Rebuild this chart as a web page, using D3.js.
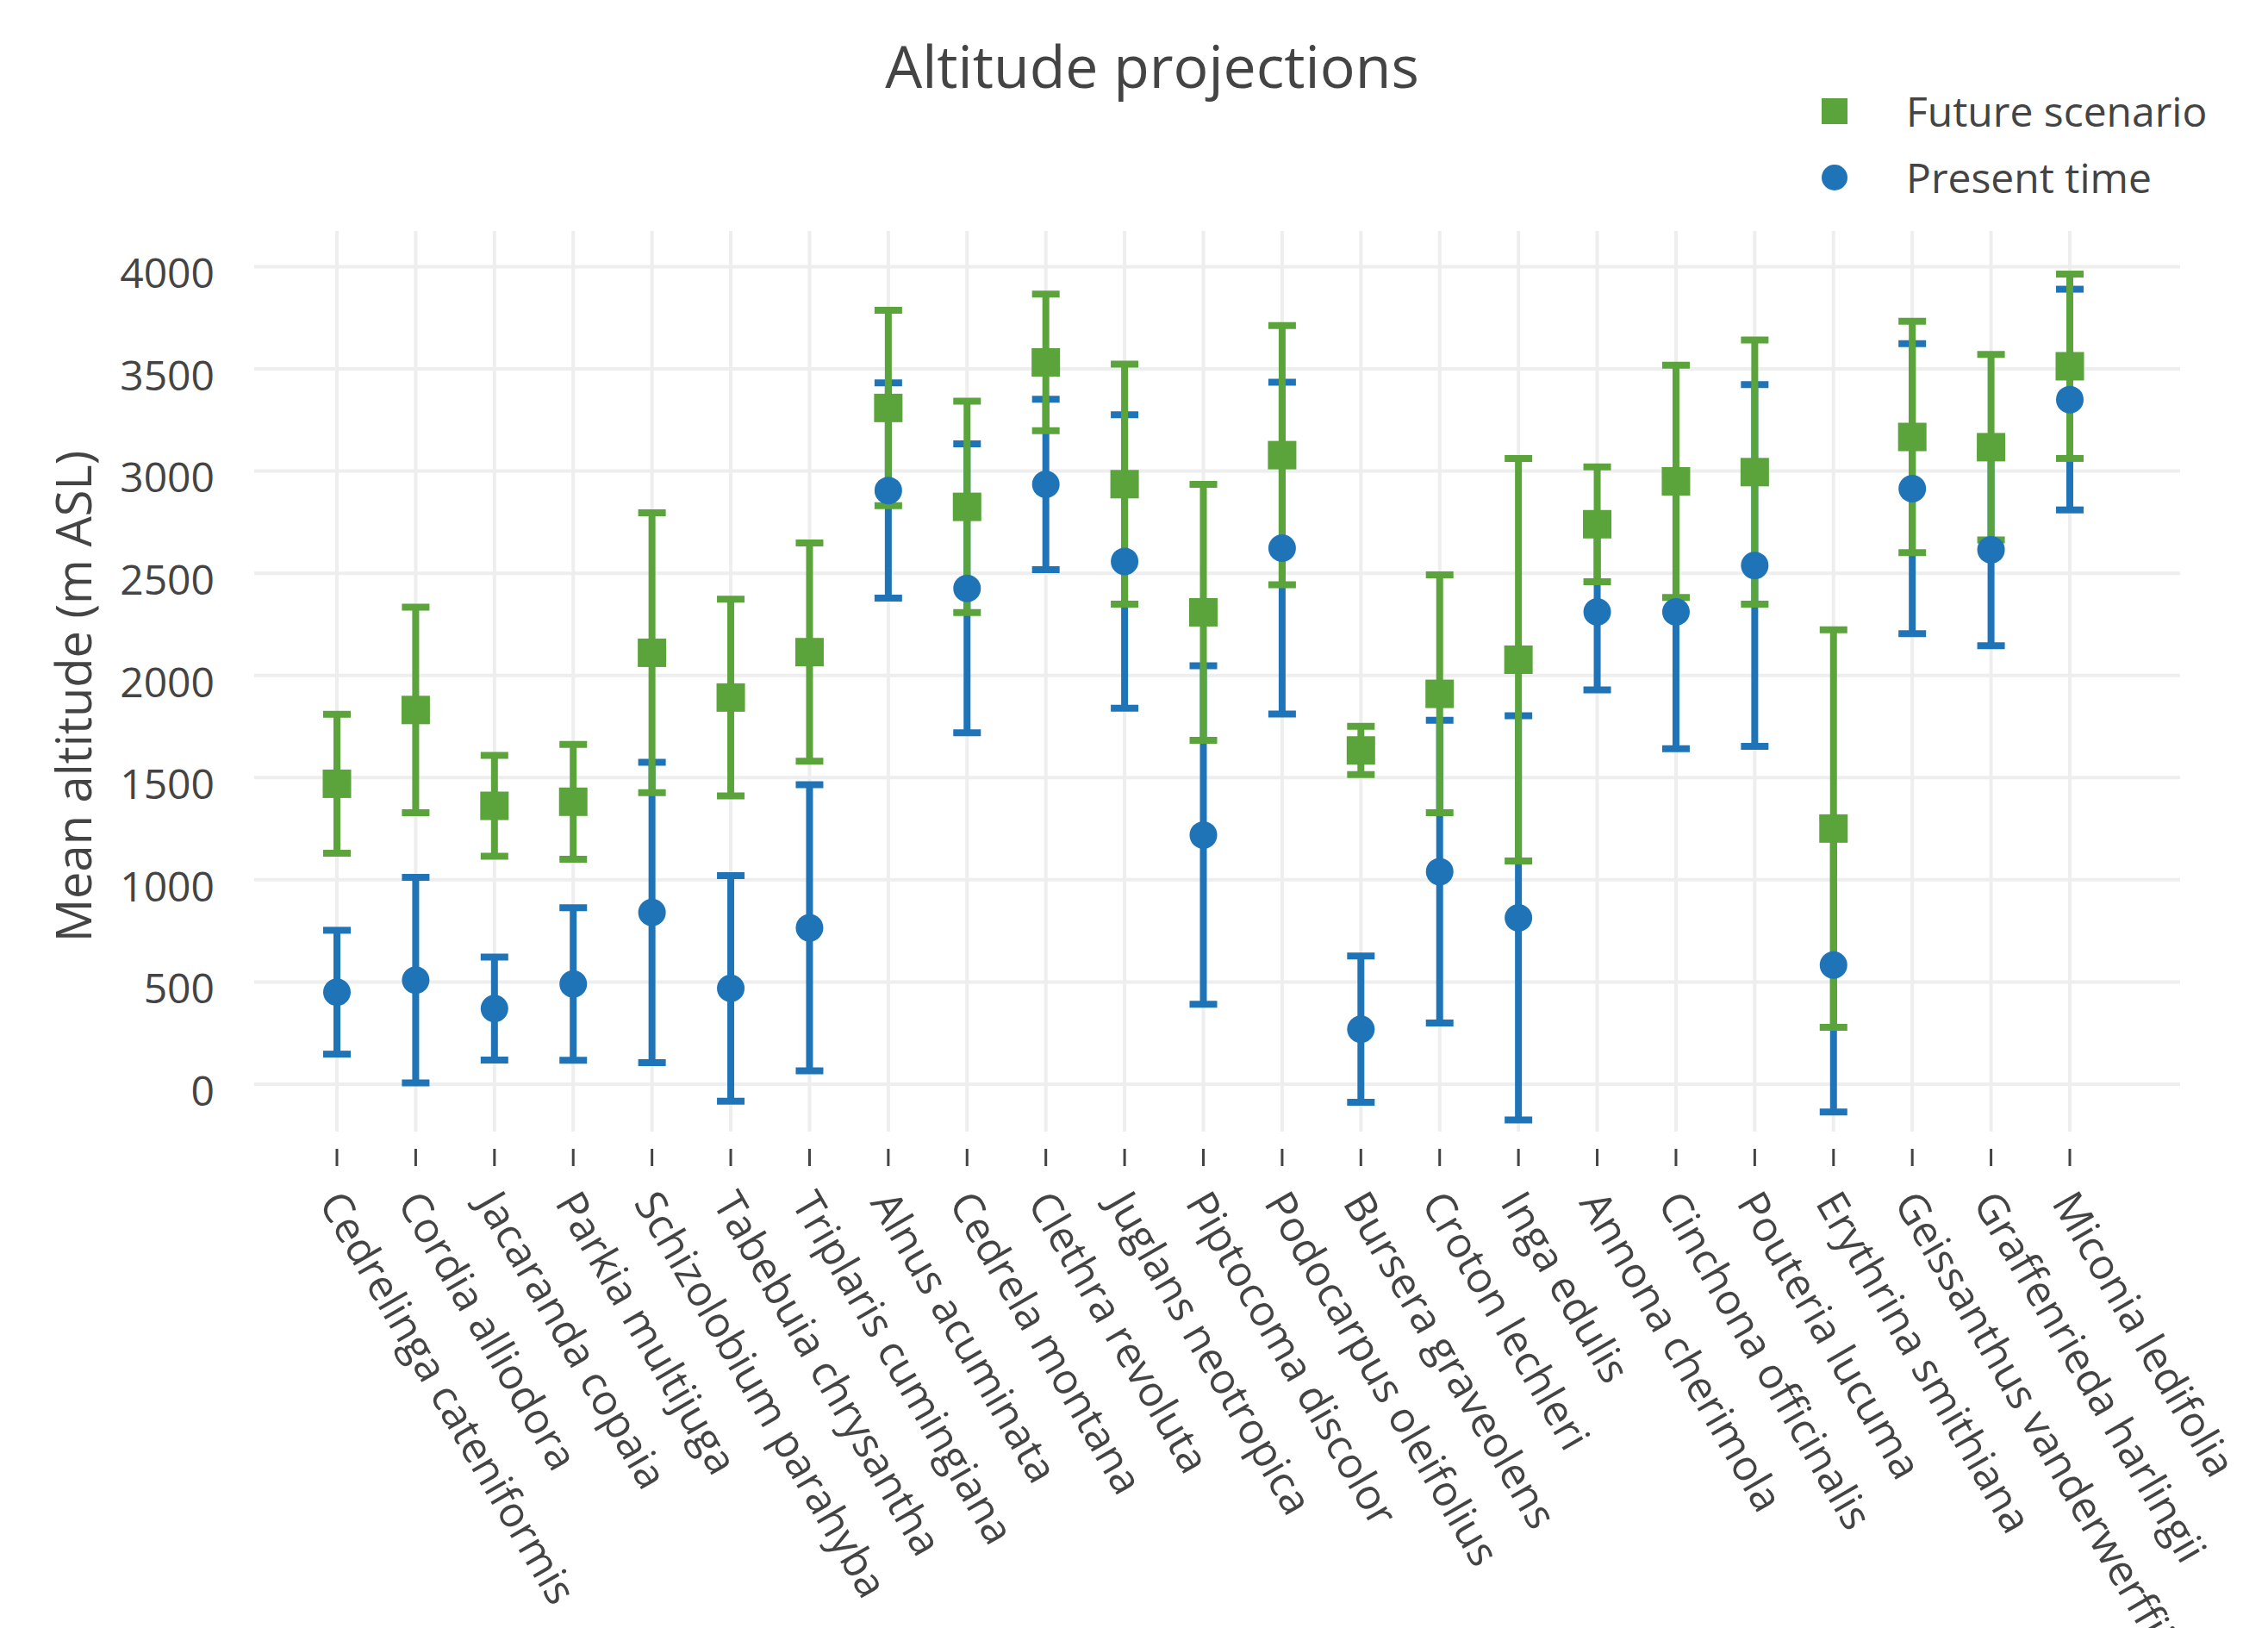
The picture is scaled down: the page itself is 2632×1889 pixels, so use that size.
<!DOCTYPE html>
<html>
<head>
<meta charset="utf-8">
<script src="https://d3js.org/d3.v7.min.js"></script>
<style>
  body { margin: 0; background: #fff; }
  text { font-family: "Open Sans", "Noto Sans", sans-serif; fill: #444; }
</style>
</head>
<body>
<div id="chart-area"></div>
<script>

var width = 2632,
    height = 1889;

// Data
var species = ["Cedrelinga cateniformis", "Cordia alliodora", "Jacaranda copaia", "Parkia multijuga",
  "Schizolobium parahyba", "Tabebuia chrysantha", "Triplaris cumingiana", "Alnus acuminata",
  "Cedrela montana", "Clethra revoluta", "Juglans neotropica", "Piptocoma discolor",
  "Podocarpus oleifolius", "Bursera graveolens", "Croton lechleri", "Inga edulis",
  "Annona cherimola", "Cinchona officinalis", "Pouteria lucuma", "Erythrina smithiana",
  "Geissanthus vanderwerffii", "Graffenrieda harlingii", "Miconia ledifolia"];

var futureMean = [1470, 1831, 1362, 1382, 2111, 1892, 2114, 3309, 2825, 3532, 2936, 2309,
  3078, 1633, 1910, 2077, 2740, 2950, 2995, 1251, 3167, 3117, 3513];
var futureErr = [340, 503, 247, 281, 685, 481, 534, 478, 517, 334, 587, 626,
  634, 118, 582, 985, 281, 568, 646, 973, 566, 454, 451];

var presentMean = [450, 509, 370, 490, 840, 469, 765, 2905, 2426, 2935, 2558, 1219,
  2623, 269, 1040, 814, 2311, 2311, 2538, 583, 2914, 2615, 3350];
var presentErr = [303, 503, 252, 373, 735, 552, 700, 527, 707, 417, 718, 828,
  812, 358, 741, 989, 382, 669, 885, 719, 710, 470, 540];

var yTicks = [0, 500, 1000, 1500, 2000, 2500, 3000, 3500, 4000];

var green = "#5ba33b",
    blue = "#1f74b8";

var svg = d3.select("#chart-area").append("svg")
    .attr("width", width)
    .attr("height", height);

var plotLeft = 295, plotRight = 2530, plotTop = 268, plotBottom = 1313;

var x = d3.scalePoint()
    .domain(species)
    .range([391, 2402]);

var y = d3.scaleLinear()
    .domain([-232, 4175])
    .range([plotBottom, plotTop]);

// grid
svg.selectAll(".hgrid")
    .data(yTicks)
    .enter()
    .append("line")
    .attr("x1", plotLeft)
    .attr("x2", plotRight)
    .attr("y1", d => y(d))
    .attr("y2", d => y(d))
    .style("stroke", "#eeeeee")
    .style("stroke-width", 4);

svg.selectAll(".vgrid")
    .data(species)
    .enter()
    .append("line")
    .attr("x1", d => x(d))
    .attr("x2", d => x(d))
    .attr("y1", plotTop)
    .attr("y2", plotBottom)
    .style("stroke", "#eeeeee")
    .style("stroke-width", 4);

// y tick labels
svg.selectAll(".ylab")
    .data(yTicks)
    .enter()
    .append("text")
    .attr("x", 249)
    .attr("y", d => y(d) + 8)
    .attr("text-anchor", "end")
    .attr("dy", "0.35em")
    .style("font-size", "48px")
    .text(d => d);

// x ticks and labels
svg.selectAll(".xtick")
    .data(species)
    .enter()
    .append("line")
    .attr("x1", d => x(d))
    .attr("x2", d => x(d))
    .attr("y1", 1333)
    .attr("y2", 1353)
    .style("stroke", "#444")
    .style("stroke-width", 3);

svg.selectAll(".xlab")
    .data(species)
    .enter()
    .append("text")
    .attr("transform", d => "translate(" + (x(d) - 7) + ",1387) rotate(60)")
    .attr("text-anchor", "start")
    .attr("dy", "0.35em")
    .style("font-size", "49px")
    .text(d => d);

// error bars
function drawErrors(means, errs, color) {
  var g = svg.append("g");
  g.selectAll("line.stem")
      .data(means)
      .enter()
      .append("line")
      .attr("x1", (d, i) => x(species[i]))
      .attr("x2", (d, i) => x(species[i]))
      .attr("y1", (d, i) => y(d - errs[i]))
      .attr("y2", (d, i) => y(d + errs[i]))
      .style("stroke", color)
      .style("stroke-width", 8);
  g.selectAll("line.capTop")
      .data(means)
      .enter()
      .append("line")
      .attr("x1", (d, i) => x(species[i]) - 16)
      .attr("x2", (d, i) => x(species[i]) + 16)
      .attr("y1", (d, i) => y(d + errs[i]))
      .attr("y2", (d, i) => y(d + errs[i]))
      .style("stroke", color)
      .style("stroke-width", 8);
  g.selectAll("line.capBot")
      .data(means)
      .enter()
      .append("line")
      .attr("x1", (d, i) => x(species[i]) - 16)
      .attr("x2", (d, i) => x(species[i]) + 16)
      .attr("y1", (d, i) => y(d - errs[i]))
      .attr("y2", (d, i) => y(d - errs[i]))
      .style("stroke", color)
      .style("stroke-width", 8);
}

drawErrors(presentMean, presentErr, blue);
drawErrors(futureMean, futureErr, green);

// future squares
svg.selectAll(".sq")
    .data(futureMean)
    .enter()
    .append("rect")
    .attr("x", (d, i) => x(species[i]) - 16.5)
    .attr("y", d => y(d) - 16.5)
    .attr("width", 33)
    .attr("height", 33)
    .style("fill", green);

// present circles
svg.selectAll(".dot")
    .data(presentMean)
    .enter()
    .append("circle")
    .attr("cx", (d, i) => x(species[i]))
    .attr("cy", d => y(d))
    .attr("r", 16)
    .style("fill", blue);

// title
svg.append("text")
    .attr("x", 1337)
    .attr("y", 78)
    .attr("dy", "0.35em")
    .attr("text-anchor", "middle")
    .style("font-size", "68px")
    .text("Altitude projections");

// y axis title
svg.append("text")
    .attr("transform", "translate(86,808) rotate(-90)")
    .attr("dy", "0.35em")
    .attr("text-anchor", "middle")
    .style("font-size", "56px")
    .text("Mean altitude (m ASL)");

// legend
var legend = svg.append("g");
legend.append("rect")
    .attr("x", 2129 - 15)
    .attr("y", 129 - 15)
    .attr("width", 30)
    .attr("height", 30)
    .style("fill", green);
legend.append("text")
    .attr("x", 2212)
    .attr("y", 130)
    .attr("dy", "0.35em")
    .style("font-size", "48px")
    .text("Future scenario");
legend.append("circle")
    .attr("cx", 2129)
    .attr("cy", 206)
    .attr("r", 15)
    .style("fill", blue);
legend.append("text")
    .attr("x", 2212)
    .attr("y", 207)
    .attr("dy", "0.35em")
    .style("font-size", "48px")
    .text("Present time");

</script>
</body>
</html>
